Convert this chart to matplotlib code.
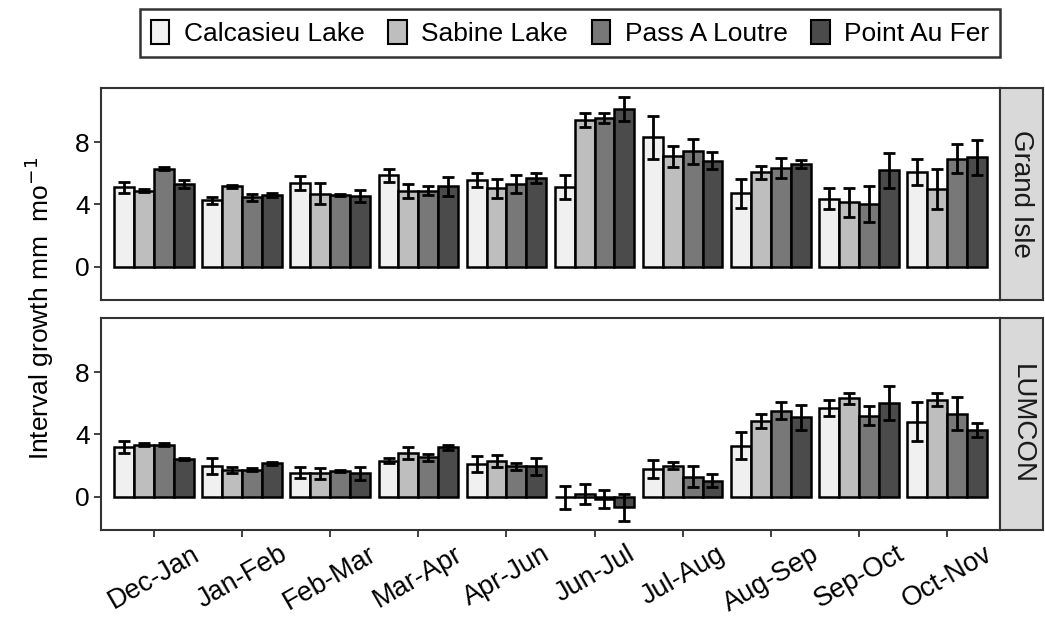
import matplotlib
matplotlib.use("Agg")
import matplotlib.pyplot as plt
from matplotlib.patches import Patch
import numpy as np

plt.rcParams['font.family'] = ['Liberation Sans', 'DejaVu Sans']

periods = ['Dec-Jan', 'Jan-Feb', 'Feb-Mar', 'Mar-Apr', 'Apr-Jun',
           'Jun-Jul', 'Jul-Aug', 'Aug-Sep', 'Sep-Oct', 'Oct-Nov']
sites = ['Calcasieu Lake', 'Sabine Lake', 'Pass A Loutre', 'Point Au Fer']
site_colors = ['#F0F0F0', '#BEBEBE', '#787878', '#4B4B4B']
panels = ['Grand Isle', 'LUMCON']

# Grand Isle: mean growth per site (rows) and period (columns)
gi_mean = [
    [5.1, 4.26, 5.4, 5.87, 5.59, 5.12, 8.32, 4.73, 4.37, 6.1],
    [4.9, 5.16, 4.69, 4.84, 5.03, 9.46, 7.1, 6.06, 4.13, 4.99],
    [6.3, 4.45, 4.62, 4.88, 5.33, 9.57, 7.42, 6.34, 4.04, 6.95],
    [5.33, 4.62, 4.56, 5.16, 5.7, 10.15, 6.82, 6.6, 6.19, 7.05],
]
gi_err = [
    [0.35, 0.24, 0.45, 0.4, 0.44, 0.78, 1.37, 0.94, 0.67, 0.84],
    [0.1, 0.1, 0.67, 0.45, 0.63, 0.46, 0.69, 0.43, 0.95, 1.27],
    [0.1, 0.25, 0.05, 0.3, 0.58, 0.3, 0.8, 0.64, 1.15, 0.92],
    [0.27, 0.12, 0.37, 0.6, 0.34, 0.78, 0.54, 0.28, 1.1, 1.13],
]

# LUMCON
lu_mean = [
    [3.18, 1.98, 1.55, 2.32, 2.1, -0.04, 1.76, 3.27, 5.7, 4.82],
    [3.33, 1.72, 1.5, 2.8, 2.3, 0.17, 1.98, 4.88, 6.34, 6.24],
    [3.33, 1.72, 1.66, 2.54, 1.94, -0.15, 1.29, 5.53, 5.2, 5.33],
    [2.41, 2.15, 1.5, 3.18, 1.94, -0.7, 1.03, 5.12, 6.02, 4.3],
]
lu_err = [
    [0.4, 0.53, 0.35, 0.15, 0.52, 0.75, 0.58, 0.86, 0.52, 1.27],
    [0.1, 0.2, 0.35, 0.39, 0.4, 0.63, 0.22, 0.46, 0.35, 0.43],
    [0.1, 0.1, 0.05, 0.23, 0.22, 0.6, 0.65, 0.54, 0.62, 1.07],
    [0.05, 0.1, 0.4, 0.15, 0.53, 0.85, 0.43, 0.8, 1.07, 0.45],
]

fig = plt.figure(figsize=(10.45, 6.28), dpi=100)

W, H = 1045.0, 628.0
left, right = 101 / W, 1000 / W
strip_w = 43 / W
boxes = [(88, 300), (318, 530)]
border = '#333333'

x = np.arange(1, len(periods) + 1)
bw = 0.225

for k, (name, means, errs) in enumerate(zip(panels, [gi_mean, lu_mean], [gi_err, lu_err])):
    top, bot = boxes[k]
    ax = fig.add_axes([left, 1 - bot / H, right - left, (bot - top) / H])
    for i in range(len(sites)):
        xi = x + (i - 1.5) * bw
        ax.bar(xi, means[i], width=bw, color=site_colors[i], edgecolor='black',
               linewidth=1.8, zorder=2)
        ax.errorbar(xi, means[i], yerr=errs[i], fmt='none', ecolor='black',
                    elinewidth=2, capsize=4.2, capthick=2, zorder=3)
    ax.set_xlim(0.4, 10.6)
    ax.set_ylim(-2.15, 11.5)
    ax.set_yticks([0, 4, 8])
    ax.tick_params(axis='y', labelsize=19, length=5, width=1.3, color=border, pad=3)
    for s in ax.spines.values():
        s.set_color(border)
        s.set_linewidth(1.5)
    if k == 0:
        ax.set_xticks([])
    else:
        ax.set_xticks(x)
        ax.set_xticklabels(periods, rotation=30, ha='center', fontsize=19.5)
        ax.tick_params(axis='x', length=5, width=1.3, color=border, pad=3)

    sax = fig.add_axes([right, 1 - bot / H, strip_w, (bot - top) / H])
    sax.set_facecolor('#D9D9D9')
    sax.set_xticks([])
    sax.set_yticks([])
    for s in sax.spines.values():
        s.set_color(border)
        s.set_linewidth(1.5)
    sax.text(0.5, 0.5, name, rotation=-90, ha='center', va='center',
             fontsize=20, color='#1A1A1A', transform=sax.transAxes)

fig.text(0.038, 1 - 308 / H, r'Interval growth mm  mo$^{-1}$', rotation=90,
         ha='center', va='center', fontsize=19)

handles = [Patch(facecolor=c, edgecolor='black', linewidth=1.5) for c in site_colors]
leg = fig.legend(handles, sites, loc='center', bbox_to_anchor=(570 / W, 1 - 33 / H),
                 ncol=4, fontsize=19, frameon=True, fancybox=False,
                 handlelength=0.7, handleheight=1.05, handletextpad=0.55,
                 columnspacing=0.9, borderpad=0.4)
leg.get_frame().set_edgecolor('black')
leg.get_frame().set_linewidth(1.8)

fig.savefig('out.png', dpi=100)
